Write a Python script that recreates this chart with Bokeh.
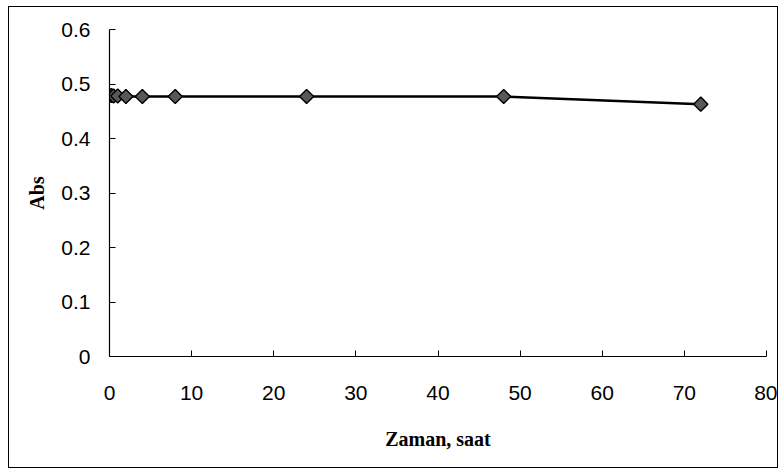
import math
from bokeh.plotting import figure
from bokeh.models import Range1d, FixedTicker, ColumnDataSource
from bokeh.embed import file_html
from bokeh.resources import INLINE

time_h = [0, 0.25, 0.5, 1, 2, 4, 8, 24, 48, 72]
absorbance = [0.479, 0.479, 0.478, 0.478, 0.477, 0.477, 0.477, 0.477, 0.477, 0.463]
x_ticks = [0, 10, 20, 30, 40, 50, 60, 70, 80]
y_ticks = [0, 0.1, 0.2, 0.3, 0.4, 0.5, 0.6]
y_labels = ["0", "0.1", "0.2", "0.3", "0.4", "0.5", "0.6"]

src = ColumnDataSource(dict(x=time_h, y=absorbance))

p = figure(width=770, height=462, output_backend="svg", toolbar_location=None,
           x_range=Range1d(0, 80), y_range=Range1d(0, 0.6),
           min_border_left=100, min_border_right=13, min_border_top=22, min_border_bottom=113)

p.outline_line_color = None
p.border_fill_color = "white"
p.background_fill_color = "white"
p.xgrid.visible = False
p.ygrid.visible = False

p.line("x", "y", source=src, line_color="black", line_width=2.5)
p.scatter("x", "y", source=src, marker="square", size=10, angle=math.pi / 4,
          fill_color="#585858", line_color="black", line_width=1.4)

for ax in (p.xaxis[0], p.yaxis[0]):
    ax.axis_line_color = "black"
    ax.axis_line_width = 1.2
    ax.major_tick_in = 6
    ax.major_tick_out = 0
    ax.minor_tick_line_color = None
    ax.major_tick_line_color = "black"
    ax.major_label_text_font = "Liberation Sans"
    ax.major_label_text_font_size = "21px"
    ax.major_label_text_color = "black"
    ax.axis_label_text_font = "Liberation Serif"
    ax.axis_label_text_font_style = "bold"
    ax.axis_label_text_font_size = "20px"
    ax.axis_label_text_color = "black"

p.xaxis[0].ticker = FixedTicker(ticks=x_ticks)
p.yaxis[0].ticker = FixedTicker(ticks=y_ticks)
p.yaxis[0].major_label_overrides = {t: l for t, l in zip(y_ticks, y_labels)}
p.xaxis[0].major_label_standoff = 29
p.yaxis[0].major_label_standoff = 19
p.xaxis[0].axis_label = "Zaman, saat"
p.yaxis[0].axis_label = "Abs"
p.xaxis[0].axis_label_standoff = 25
p.yaxis[0].axis_label_standoff = 10

# outer chart-area frame, placed like the reference
p.styles = {"border": "1px solid black", "margin-left": "8px", "margin-top": "6px"}

open("out.html", "w").write(file_html(p, INLINE))
